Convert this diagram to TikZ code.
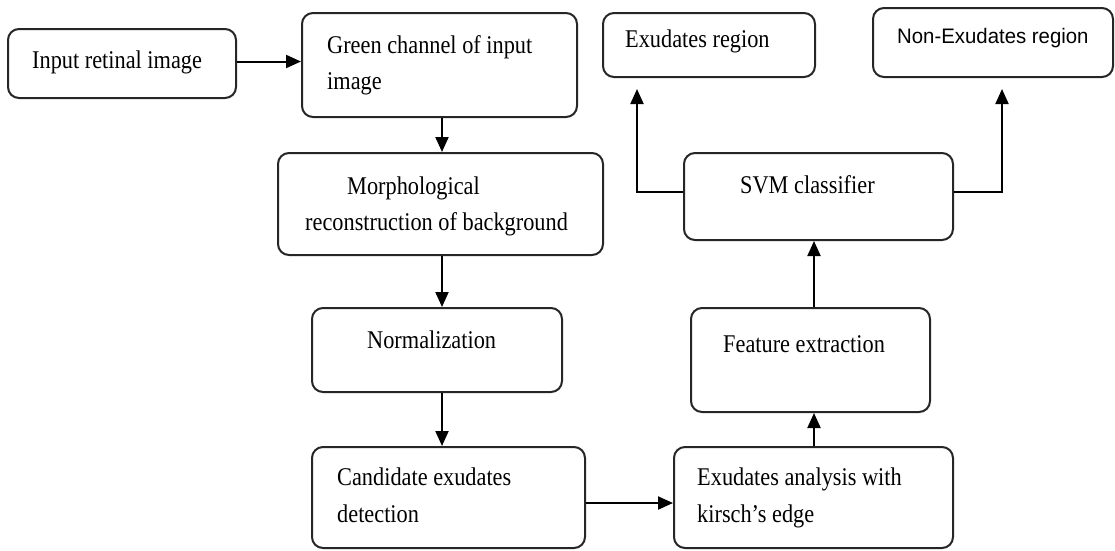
\documentclass[tikz,border=0pt]{standalone}
\usepackage{fontspec}
\setmainfont[FakeStretch=0.875]{Liberation Serif}
\newfontfamily\arialfont[FakeStretch=0.97]{Liberation Sans}
\usetikzlibrary{arrows.meta}
\tikzset{
  box/.style={draw=black!85, line width=2pt, rounded corners=11pt, inner sep=0pt, fill=white},
  txt/.style={anchor=base west, inner sep=0pt, font=\fontsize{25.5pt}{30pt}\selectfont},
  stxt/.style={anchor=base west, inner sep=0pt, font=\arialfont\fontsize{21pt}{25pt}\selectfont},
  arr/.style={line width=2pt, -{Triangle[length=15pt,width=13pt]}},
}
\begin{document}
\begin{tikzpicture}[x=1pt,y=-1pt]
\useasboundingbox (0,0) rectangle (1115,550);
% boxes
\node[box, minimum width=228pt, minimum height=69pt]  (in)    at (122,63.5) {};
\node[box, minimum width=275pt, minimum height=104pt] (green) at (439.5,65) {};
\node[box, minimum width=325pt, minimum height=102pt] (morph) at (440.5,204) {};
\node[box, minimum width=250pt, minimum height=84pt]  (norm)  at (437,350) {};
\node[box, minimum width=273pt, minimum height=101pt] (cand)  at (448.5,497.5) {};
\node[box, minimum width=279pt, minimum height=101pt] (exa)   at (813.5,497.5) {};
\node[box, minimum width=239pt, minimum height=104pt] (feat)  at (810.5,360) {};
\node[box, minimum width=269pt, minimum height=87pt]  (svm)   at (818.5,196.5) {};
\node[box, minimum width=212pt, minimum height=64pt]  (exr)   at (709,45) {};
\node[box, minimum width=240pt, minimum height=69pt]  (nexr)  at (993,42.5) {};
% texts
\node[txt] (tin)   at (32,68)  {Input retinal image};
\node[txt] (tg1)   at (327,53) {Green channel of input};
\node[txt] (tg2)   at (327,89) {image};
\node[txt] (tm1)   at (347,194) {Morphological};
\node[txt] (tm2)   at (305,230) {reconstruction of background};
\node[txt] (tn)    at (367,348) {Normalization};
\node[txt] (tc1)   at (337,485) {Candidate exudates};
\node[txt] (tc2)   at (337,522) {detection};
\node[txt] (te1)   at (697,485) {Exudates analysis with};
\node[txt] (te2)   at (697,522) {kirsch’s edge};
\node[txt] (tf)    at (723,352) {Feature extraction};
\node[txt] (ts)    at (740,193) {SVM classifier};
\node[txt] (tr)    at (625,47)  {Exudates region};
\node[stxt] (tnr)  at (897,43)  {Non-Exudates region};
% connectors
\draw[arr] ([yshift=2pt]in.east) -- ([yshift=2pt]in.east -| green.west);
\draw[arr] ([xshift=2.5pt]green.south) -- ([xshift=2.5pt]green.south |- morph.north);
\draw[arr] ([xshift=1.5pt]morph.south) -- ([xshift=1.5pt]morph.south |- norm.north);
\draw[arr] ([xshift=5pt]norm.south) -- ([xshift=5pt]norm.south |- cand.north);
\draw[arr] ([yshift=-5.5pt]cand.east) -- ([yshift=-5.5pt]cand.east -| exa.west);
\draw[arr] ([xshift=0.5pt]exa.north) -- ([xshift=0.5pt]exa.north |- feat.south);
\draw[arr] ([xshift=3.5pt]feat.north) -- ([xshift=3.5pt]feat.north |- svm.south);
\draw[arr] ([yshift=4.5pt]svm.west) -| ([xshift=-72pt,yshift=-11pt]exr.south);
\draw[arr] ([yshift=4.5pt]svm.east) -| ([xshift=9pt,yshift=-11pt]nexr.south);
\end{tikzpicture}
\end{document}
